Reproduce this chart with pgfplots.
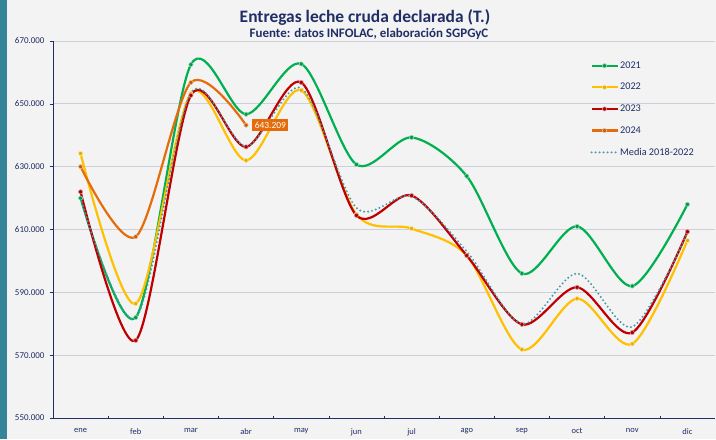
\documentclass[border=0pt]{standalone}
\usepackage{pgfplots}
\pgfplotsset{compat=1.18}
\usepackage{fontspec}
\setmainfont{Carlito}
\definecolor{bgc}{RGB}{243,243,244}
\definecolor{strip}{RGB}{52,133,152}
\definecolor{navy}{RGB}{31,46,100}
\definecolor{gridc}{RGB}{205,208,218}
\definecolor{c21}{RGB}{0,176,80}
\definecolor{c22}{RGB}{255,192,0}
\definecolor{c23}{RGB}{192,0,0}
\definecolor{c24}{RGB}{228,108,10}
\definecolor{cmed}{RGB}{70,152,172}
\begin{document}
\begin{tikzpicture}[x=1bp,y=1bp]
\fill[bgc] (0,0) rectangle (716,-439);
\fill[strip] (0,0) rectangle (7,-439);
\node[font=\fontsize{17.5}{19}\selectfont\bfseries, text=navy] at (365,-18) {Entregas leche cruda declarada (T.)};
\node[font=\fontsize{13}{15}\selectfont\bfseries, text=navy] at (369,-34) {Fuente: datos INFOLAC, elaboración SGPGyC};
\begin{axis}[
  at={(53bp,-418bp)}, anchor=south west,
  scale only axis, width=662bp, height=377bp,
  xmin=-0.5, xmax=11.5, ymin=550, ymax=670,
  xtick={0,...,11},
  xticklabels={ene,feb,mar,abr,may,jun,jul,ago,sep,oct,nov,dic},
  minor xtick={0.5,1.5,...,10.5},
  major x tick style={draw=none},
  minor x tick style={navy, line width=0.6pt, yshift=2.5pt},
  minor tick length=2.5pt,
  major tick length=3.5pt,
  xtick pos=bottom, tick align=outside,
  ytick={550,570,...,670},
  yticklabels={550.000,570.000,590.000,610.000,630.000,650.000,670.000},
  ytick style={navy,line width=0.6pt},
  ytick pos=left,
  y tick label style={font=\fontsize{9}{10}\selectfont, text=navy, xshift=-1.5bp},
  x tick label style={font=\fontsize{8.5}{9}\selectfont, text=navy, yshift=-3.5bp},
  ymajorgrids, grid style={gridc, line width=0.8pt},
  axis x line*=bottom, axis y line*=left,
  axis line style={navy, line width=0.8pt, -},
  clip=false,
  legend style={at={(0.807,0.955)}, anchor=north west, draw=none, fill=none,
    font=\fontsize{10.3}{11}\selectfont, text=navy, row sep=10.5pt,
    nodes={inner sep=1.5pt}},
  legend cell align=left,
  legend image code/.code={\draw[mark repeat=2,mark phase=2,#1] plot coordinates {(0bp,0bp)(13bp,0bp)(26bp,0bp)};},
  every axis plot/.append style={line width=2.2bp, smooth, tension=0.5, mark=*, mark size=2.1bp},
]
\addplot[c21, mark options={fill=c21!85!black, draw=white!55!c21, line width=0.6pt}] coordinates {
(0,620)(1,582)(2,662.5)(3,646.7)(4,662.7)(5,630.7)(6,639.3)(7,627)(8,596)(9,611)(10,592)(11,618)};
\addlegendentry{2021}
\addplot[c22, mark options={fill=c22!90!black, draw=white!55!c22, line width=0.6pt}] coordinates {
(0,634.2)(1,586.4)(2,653.3)(3,632)(4,654.3)(5,614.8)(6,610.3)(7,601.7)(8,571.8)(9,588)(10,573.6)(11,606.5)};
\addlegendentry{2022}
\addplot[c23, mark options={fill=c23!85!black, draw=white!55!c23, line width=0.6pt}] coordinates {
(0,622)(1,574.7)(2,652.7)(3,636.3)(4,656.8)(5,614.5)(6,620.8)(7,601.7)(8,579.8)(9,591.6)(10,577.2)(11,609.3)};
\addlegendentry{2023}
\addplot[c24, mark options={fill=c24!85!black, draw=white!55!c24, line width=0.6pt}] coordinates {
(0,630)(1,607.7)(2,656.8)(3,643.209)};
\addlegendentry{2024}
\addplot[cmed, mark=none, line cap=round, dash pattern=on 0pt off 4bp] coordinates {
(0,620)(1,581.8)(2,653.5)(3,636.5)(4,655)(5,616.9)(6,620.5)(7,603)(8,580)(9,596)(10,579)(11,609)};
\addlegendentry{Media 2018-2022}
\node[fill=c24, text=white, font=\fontsize{9.5}{11}\selectfont, inner sep=2.5pt, anchor=west] at (axis cs:3,643.209) [xshift=6bp] {643.209};
\end{axis}
\end{tikzpicture}
\end{document}
